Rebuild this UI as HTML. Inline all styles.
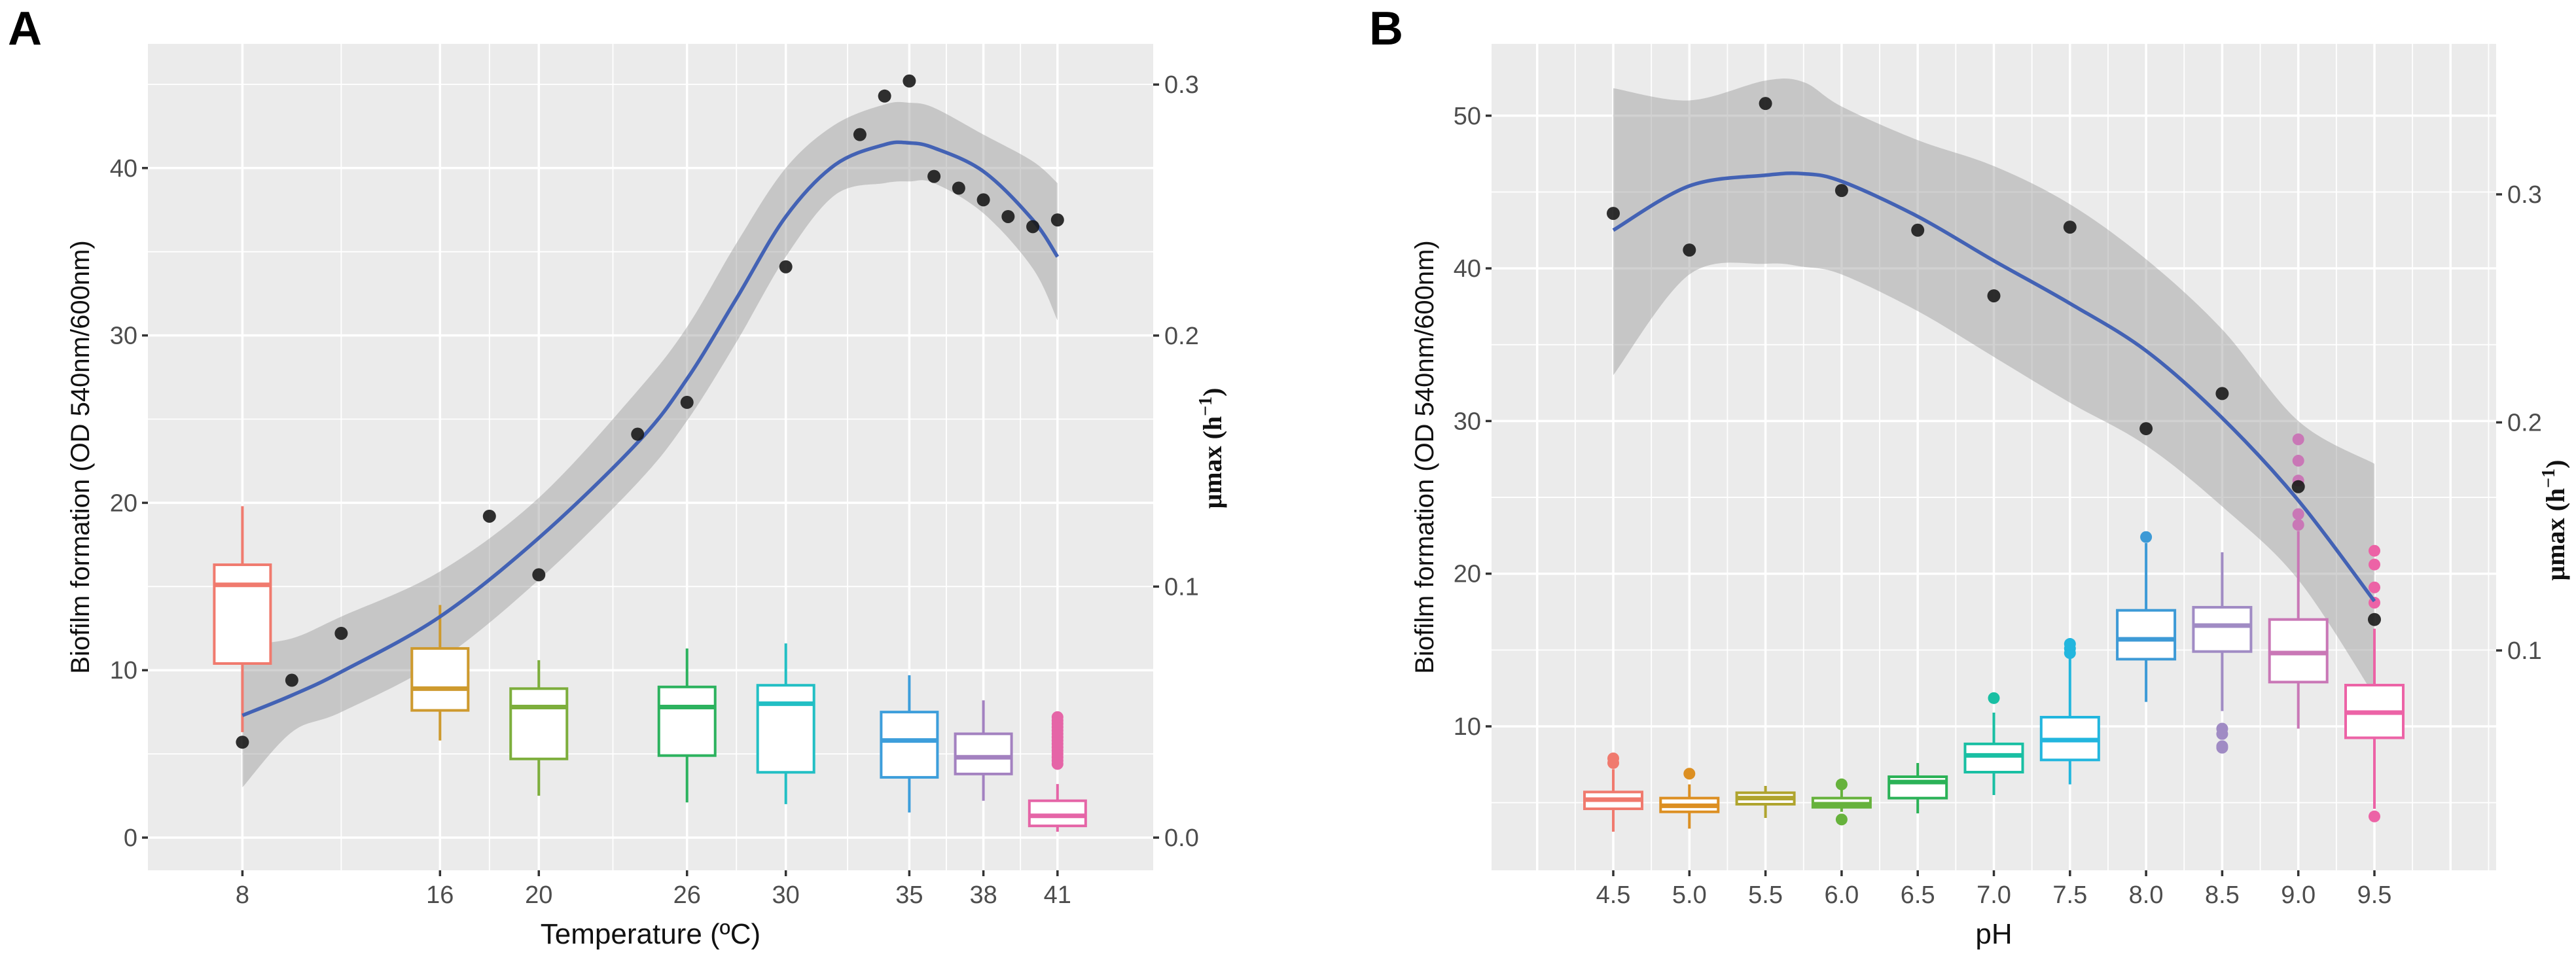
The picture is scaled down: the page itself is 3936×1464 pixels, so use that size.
<!DOCTYPE html>
<html><head><meta charset="utf-8"><style>
html,body{margin:0;padding:0;background:#fff;}
svg{display:block;}
text{font-family:"Liberation Sans Narrow","Liberation Sans",sans-serif;}
</style></head><body>
<svg id="chart" width="3936" height="1464" viewBox="0 0 3936 1464" xmlns="http://www.w3.org/2000/svg"></svg>
<script>
// ---------- Panel A data ----------
const tempPts = [8,10,12,18,20,24,26,30,33,34,35,36,37,38,39,40,41];
const tempPtVals = [5.7,9.4,12.2,19.2,15.7,24.1,26.0,34.1,42.0,44.3,45.2,39.5,38.8,38.1,37.1,36.5,36.9];
const tempFitX = [8,10,12,16,20,24,26,28,30,32,34,35,36,38,40,41];
const tempFit = [7.3,8.5,9.9,13.2,17.9,23.6,27.4,32.2,37.1,40.2,41.4,41.5,41.2,39.8,36.9,34.7];
const tempCiHi = [11.5,11.9,13.2,15.9,20.3,26.7,30.5,35.5,40.0,42.6,43.8,43.9,43.6,42.0,40.4,39.1];
const tempCiLo = [3.0,6.3,7.5,10.6,15.4,21.2,24.9,29.6,34.7,38.4,39.1,39.2,39.1,37.3,34.0,30.9];
const tempBoxX = [8,16,20,26,30,35,38,41];
const tempBoxLo = [6.3,5.8,2.5,2.1,2.0,1.5,2.2,0.35];
const tempBoxQ1 = [10.4,7.6,4.7,4.9,3.9,3.6,3.8,0.7];
const tempBoxMed = [15.1,8.9,7.8,7.8,8.0,5.8,4.8,1.3];
const tempBoxQ3 = [16.3,11.3,8.9,9.0,9.1,7.5,6.2,2.2];
const tempBoxHi = [19.8,13.9,10.6,11.3,11.6,9.7,8.2,3.2];
const tempOutX = [41,41,41,41,41,41,41,41,41,41,41,41,41,41,41];
const tempOutY = [4.4,4.6,4.8,5.0,5.2,5.4,5.6,5.8,6.0,6.2,6.4,6.6,6.8,7.0,7.2];
const tempTicks = [8,16,20,26,30,35,38,41];
const tempMinor = [12,18,23,28,32.5,36.5,39.5];
const leftTicksA = [0,10,20,30,40];
const rightTicksA = [0.0,0.1,0.2,0.3];
const rightLabelsA = ["0.0","0.1","0.2","0.3"];
const colorsA = ["#F07A6E","#CE9A2E","#7DAE3C","#2CB25E","#22BFC4","#3D9EDB","#A381C0","#E565A7"];

// ---------- Panel B data ----------
const phPts = [4.5,5.0,5.5,6.0,6.5,7.0,7.5,8.0,8.5,9.0,9.5];
const phPtVals = [43.6,41.2,50.8,45.1,42.5,38.2,42.7,29.5,31.8,25.7,17.0];
const phFitX = [4.5,5.0,5.5,5.75,6.0,6.5,7.0,7.5,8.0,8.5,9.0,9.5];
const phFit = [42.5,45.4,46.1,46.2,45.7,43.4,40.5,37.7,34.6,30.2,24.8,18.2];
const phCiHi = [51.8,51.0,52.3,52.2,50.6,48.4,46.7,44.2,40.6,36.0,30.0,27.2];
const phCiLo = [33.0,39.6,40.3,40.1,39.6,37.2,34.2,31.2,28.4,24.4,19.6,12.0];
const phBoxX = [4.5,5.0,5.5,6.0,6.5,7.0,7.5,8.0,8.5,9.0,9.5];
const phBoxLo = [3.1,3.3,4.0,4.4,4.3,5.5,6.2,11.6,11.0,9.85,4.6];
const phBoxQ1 = [4.6,4.4,4.9,4.7,5.3,7.0,7.8,14.4,14.9,12.9,9.25];
const phBoxMed = [5.2,4.8,5.3,4.9,6.35,8.1,9.1,15.7,16.6,14.8,10.9];
const phBoxQ3 = [5.7,5.3,5.65,5.3,6.7,8.85,10.6,17.6,17.8,17.0,12.7];
const phBoxHi = [7.2,6.2,6.1,5.9,7.6,10.9,14.7,22.0,21.4,22.8,16.4];
const phOutX = [4.5,4.5,5.0,6.0,6.0,7.0,7.5,7.5,7.5,8.0,8.5,8.5,8.5,8.5,9.0,9.0,9.0,9.0,9.0,9.5,9.5,9.5,9.5,9.5];
const phOutY = [7.6,7.9,6.9,6.2,3.9,11.85,15.4,15.1,14.8,22.4,9.85,9.5,8.7,8.6,23.2,23.9,26.1,27.4,28.8,21.5,20.6,19.1,18.1,4.1];
const phTicks = [4.5,5.0,5.5,6.0,6.5,7.0,7.5,8.0,8.5,9.0,9.5];
const phTickLabels = ["4.5","5.0","5.5","6.0","6.5","7.0","7.5","8.0","8.5","9.0","9.5"];
const leftTicksB = [10,20,30,40,50];
const rightTicksB = [0.1,0.2,0.3];
const rightLabelsB = ["0.1","0.2","0.3"];
const colorsB = ["#F07A6E","#DC8F22","#AFA42E","#66B23C","#2BB257","#19BFA3","#22B6DE","#3D9AD6","#A08BC4","#C977B6","#EC63A6"];

const NS = "http://www.w3.org/2000/svg";
const svg = document.getElementById("chart");
function mk(tag, attrs, parent){
  const e = document.createElementNS(NS, tag);
  for (const k in attrs) e.setAttribute(k, attrs[k]);
  (parent||svg).appendChild(e);
  return e;
}
function smoothPath(pts){
  let d = "M"+pts[0][0]+","+pts[0][1];
  for (let i=0;i<pts.length-1;i++){
    const p0=pts[Math.max(0,i-1)], p1=pts[i], p2=pts[i+1], p3=pts[Math.min(pts.length-1,i+2)];
    const c1x=p1[0]+(p2[0]-p0[0])/6, c1y=p1[1]+(p2[1]-p0[1])/6;
    const c2x=p2[0]-(p3[0]-p1[0])/6, c2y=p2[1]-(p3[1]-p1[1])/6;
    d += " C"+c1x+","+c1y+" "+c2x+","+c2y+" "+p2[0]+","+p2[1];
  }
  return d;
}

function panel(cfg){
  const g = mk("g", {});
  
  
  const {L,R,T,B} = cfg;
  const sx = v => cfg.x0px + (v - cfg.x0) * cfg.xs;
  const sy = v => cfg.y0px - (v - cfg.y0) * cfg.ys;
  const sr = v => cfg.r0px - (v - cfg.r0) * cfg.rs;
  const bg = mk("rect", {x:L,y:T,width:R-L,height:B-T,fill:"#EBEBEB"}, g);
  
  
  for (let v = cfg.hgStart; v <= cfg.hgEnd + 1e-9; v += cfg.hgStep){
    const y = sy(v);
    if (y < T || y > B) continue;
    const major = Math.abs(v/cfg.hgMajor - Math.round(v/cfg.hgMajor)) < 1e-6;
    const ln = mk("line", {x1:L,x2:R,y1:y,y2:y,stroke:"#fff","stroke-width":major?3.5:1.8}, g);
    
    
  }
  cfg.vMinor.forEach(v=>{
    const ln = mk("line", {x1:sx(v),x2:sx(v),y1:T,y2:B,stroke:"#fff","stroke-width":1.8}, g);
    
    
  });
  cfg.vMajor.forEach(v=>{
    const ln = mk("line", {x1:sx(v),x2:sx(v),y1:T,y2:B,stroke:"#fff","stroke-width":3.5}, g);
    
    
  });
  const up = cfg.fitX.map((x,i)=>[sx(x), sy(cfg.ciHi[i])]);
  const lo = cfg.fitX.map((x,i)=>[sx(x), sy(cfg.ciLo[i])]).reverse();
  let d = smoothPath(up);
  d += " L"+lo[0][0]+","+lo[0][1] + smoothPath(lo).replace(/^M[^ ]+/,"") + " Z";
  const rib = mk("path", {d:d, fill:"#9a9a9a","fill-opacity":0.45}, g);
  
  
  const bw = cfg.boxW;
  cfg.boxX.forEach((x,i)=>{
    const c = cfg.colors[i], cx = sx(x);
    const bg2 = mk("g", {}, g);
    
    
    mk("line",{x1:cx,x2:cx,y1:sy(cfg.boxHi[i]),y2:sy(cfg.boxQ3[i]),stroke:c,"stroke-width":4},bg2);
    mk("line",{x1:cx,x2:cx,y1:sy(cfg.boxQ1[i]),y2:sy(cfg.boxLo[i]),stroke:c,"stroke-width":4},bg2);
    mk("rect",{x:cx-bw/2,y:sy(cfg.boxQ3[i]),width:bw,height:sy(cfg.boxQ1[i])-sy(cfg.boxQ3[i]),fill:"#fff",stroke:c,"stroke-width":4},bg2);
    mk("line",{x1:cx-bw/2,x2:cx+bw/2,y1:sy(cfg.boxMed[i]),y2:sy(cfg.boxMed[i]),stroke:c,"stroke-width":7},bg2);
  });
  cfg.outX.forEach((x,i)=>{
    const idx = cfg.boxX.indexOf(x);
    const o = mk("circle",{cx:sx(x),cy:sy(cfg.outY[i]),r:9,fill:cfg.colors[idx]},g);
    
    
  });
  const fl = mk("path",{d:smoothPath(cfg.fitX.map((x,i)=>[sx(x),sy(cfg.fit[i])])),fill:"none",stroke:"#4362B4","stroke-width":5.5},g);
  
  
  cfg.ptX.forEach((x,i)=>{
    const p = mk("circle",{cx:sx(x),cy:sy(cfg.ptY[i]),r:10,fill:"#1a1a1a","fill-opacity":0.9},g);
    
    
  });
  cfg.leftTicks.forEach(v=>{
    const y = sy(v);
    mk("line",{x1:L-9,x2:L,y1:y,y2:y,stroke:"#333","stroke-width":3.5},g);
    const t = mk("text",{x:L-16,y:y+13,"text-anchor":"end","font-size":38,fill:"#4d4d4d"},g);
    t.textContent = String(v);
    
    
  });
  cfg.rightTicks.forEach((v,i)=>{
    const y = sr(v);
    mk("line",{x1:R,x2:R+9,y1:y,y2:y,stroke:"#333","stroke-width":3.5},g);
    const t = mk("text",{x:R+17,y:y+13,"text-anchor":"start","font-size":38,fill:"#4d4d4d"},g);
    t.textContent = cfg.rightLabels[i];
    
    
  });
  cfg.xTicks.forEach((v,i)=>{
    const x = sx(v);
    mk("line",{x1:x,x2:x,y1:B,y2:B+9,stroke:"#333","stroke-width":3.5},g);
    const t = mk("text",{x:x,y:B+50,"text-anchor":"middle","font-size":38,fill:"#4d4d4d"},g);
    t.textContent = cfg.xLabels[i];
    
    
  });
  const xt = mk("text",{x:(L+R)/2,y:1442,"text-anchor":"middle","font-size":44,fill:"#111"},g);
  xt.textContent = cfg.xTitle;
  
  
  const yt = mk("text",{x:0,y:0,"text-anchor":"middle","font-size":40,fill:"#111",
    style:'font-family:"Liberation Sans",sans-serif',transform:"translate("+cfg.yTitleX+","+((T+B)/2)+") rotate(-90)"},g);
  yt.textContent = "Biofilm formation (OD 540nm/600nm)";
  
  
  const rt = mk("text",{x:0,y:0,"text-anchor":"middle","font-size":40,"font-weight":"bold",fill:"#111",
    style:'font-family:"Liberation Serif",serif',transform:"translate("+cfg.rTitleX+","+cfg.rTitleY+") rotate(-90)"},g);
  rt.innerHTML = 'μmax (h<tspan baseline-shift="super" font-size="28">−1</tspan>)';
  
  
  const pl = mk("text",{x:cfg.labelX,y:68,"font-size":72,"font-weight":"bold",fill:"#000",style:'font-family:"Liberation Sans",sans-serif'},g);
  pl.textContent = cfg.label;
  
  
}

panel({name:"panel-a-temperature", L:226,R:1762,T:67,B:1330,
  x0:8,x0px:370.4,xs:37.74, y0:0,y0px:1280,ys:25.58, r0:0,r0px:1280,rs:3836,
  hgStart:0,hgEnd:45,hgStep:5,hgMajor:10,
  vMajor:tempTicks, vMinor:tempMinor,
  fitX:tempFitX,fit:tempFit,ciHi:tempCiHi,ciLo:tempCiLo,
  boxX:tempBoxX,boxLo:tempBoxLo,boxQ1:tempBoxQ1,boxMed:tempBoxMed,boxQ3:tempBoxQ3,boxHi:tempBoxHi,
  outX:tempOutX,outY:tempOutY,colors:colorsA,boxW:86,
  ptX:tempPts,ptY:tempPtVals,
  leftTicks:leftTicksA,rightTicks:rightTicksA,rightLabels:rightLabelsA,
  xTicks:tempTicks,xLabels:tempTicks.map(String),xTitle:"Temperature (ºC)",
  yTitleX:136,rTitleX:1866,rTitleY:685,labelX:12,label:"A"});

panel({name:"panel-b-ph", L:2279,R:3814,T:67,B:1330,
  x0:4.5,x0px:2465,xs:232.6, y0:10,y0px:1110,ys:23.33, r0:0.1,r0px:994,rs:3485,
  hgStart:5,hgEnd:55,hgStep:5,hgMajor:10,
  vMajor:[4.0,4.5,5.0,5.5,6.0,6.5,7.0,7.5,8.0,8.5,9.0,9.5,10.0],
  vMinor:[4.25,4.75,5.25,5.75,6.25,6.75,7.25,7.75,8.25,8.75,9.25,9.75,10.25],
  fitX:phFitX,fit:phFit,ciHi:phCiHi,ciLo:phCiLo,
  boxX:phBoxX,boxLo:phBoxLo,boxQ1:phBoxQ1,boxMed:phBoxMed,boxQ3:phBoxQ3,boxHi:phBoxHi,
  outX:phOutX,outY:phOutY,colors:colorsB,boxW:88,
  ptX:phPts,ptY:phPtVals,
  leftTicks:leftTicksB,rightTicks:rightTicksB,rightLabels:rightLabelsB,
  xTicks:phTicks,xLabels:phTickLabels,xTitle:"pH",
  yTitleX:2190,rTitleX:3918,rTitleY:795,labelX:2092,label:"B"});
</script>
</body></html>
